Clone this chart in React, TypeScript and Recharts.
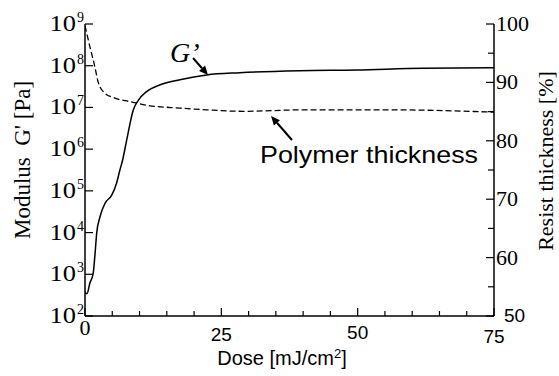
import React from 'react'
import { LineChart, Line, XAxis, YAxis } from 'recharts'

const SERIF = '"Liberation Serif", "Times New Roman", serif'
const SANS = '"Liberation Sans", Arial, sans-serif'

// x axis: dose [mJ/cm2]
const doseTicks = [0, 5, 10, 15, 20, 25, 30, 35, 40, 45, 50, 55, 60, 65, 70, 75]
const doseLabels = [0, 25, 50, 75]

// left axis: modulus G' [Pa], log scale
const modulusTicks = [1e2, 1e3, 1e4, 1e5, 1e6, 1e7, 1e8, 1e9]

// right axis: resist thickness [%]
const thicknessTicks = [50, 55, 60, 65, 70, 75, 80, 85, 90, 95, 100]
const thicknessLabels = [50, 60, 70, 80, 90, 100]

// G' curve
const gDose = [0, 0.35, 0.9, 1.5, 1.85, 2.15, 2.75, 3.7, 4.9, 5.8, 6.4, 6.9, 7.65, 8.85, 9.8, 11.3, 13.8, 17.4, 22.3, 28.4, 39.4, 49.8, 62, 75]
const gModulus = [380, 340, 620, 1050, 3200, 9800, 24000, 51000, 79000, 155000, 316000, 550000, 1.66e6, 8.7e6, 1.5e7, 2.4e7, 3.5e7, 4.6e7, 6.0e7, 6.8e7, 7.6e7, 7.9e7, 8.7e7, 8.9e7]

// polymer thickness curve
const tDose = [0, 0.9, 1.8, 2.4, 3.7, 5.2, 8.3, 11.3, 17.4, 22.3, 29, 40, 56, 75]
const tThickness = [99.7, 96.1, 92.7, 90.1, 88.1, 87.4, 86.7, 86.1, 85.6, 85.3, 85.05, 85.3, 85.3, 84.9]

const gData = gDose.map((d, i) => ({ dose: d, g: gModulus[i] }))
const tData = tDose.map((d, i) => ({ dose: d, t: tThickness[i] }))

const BottomTick = (p: any) => {
  const v = p.payload.value
  const major = doseLabels.includes(v)
  return (
    <g>
      <line x1={p.x} y1={p.y} x2={p.x} y2={p.y - (major ? 8 : 5)} stroke="#000" strokeWidth={1.2} />
      {major && v === 0 && (
        <text x={p.x} y={p.y + 19} textAnchor="middle" fontFamily={SERIF} fontSize={22} fill="#000">0</text>
      )}
      {major && v !== 0 && (
        <text x={p.x} y={p.y + (v === 50 ? 23 : v === 75 ? 27 : 25)} textAnchor="middle" fontFamily={SANS} fontSize={19} fill="#000">{v}</text>
      )}
    </g>
  )
}

const TopTick = (p: any) => (
  <line x1={p.x} y1={p.y} x2={p.x} y2={p.y + 5} stroke="#000" strokeWidth={1.2} />
)

const LeftTick = (p: any) => {
  const exp = Math.round(Math.log10(p.payload.value))
  return (
    <g>
      <line x1={p.x} y1={p.y} x2={p.x + 8} y2={p.y} stroke="#000" strokeWidth={1.2} />
      <text transform={`translate(${p.x - 9},${p.y + 7}) scale(1.15,1)`} textAnchor="end" fontFamily={SERIF} fontSize={23} fill="#000">10</text>
      <text x={p.x - 8} y={p.y - 2} fontFamily={SERIF} fontSize={14} fill="#000">{exp}</text>
    </g>
  )
}

const RightTick = (p: any) => {
  const v = p.payload.value
  const major = thicknessLabels.includes(v)
  return (
    <g>
      <line x1={p.x} y1={p.y} x2={p.x - (major ? 8 : 6)} y2={p.y} stroke="#000" strokeWidth={1.2} />
      {major && v !== 50 && (
        <text x={p.x + 2} y={p.y + 7} fontFamily={SERIF} fontSize={22} fill="#000">{v}</text>
      )}
      {v === 50 && (
        <text x={p.x + 10} y={p.y + 6} fontFamily={SANS} fontSize={19} fill="#000">50</text>
      )}
    </g>
  )
}

const Arrow = ({ x1, y1, x2, y2 }: { x1: number; y1: number; x2: number; y2: number }) => {
  const a = Math.atan2(y2 - y1, x2 - x1)
  const len = 9
  const w = 4
  const bx = x2 - len * Math.cos(a)
  const by = y2 - len * Math.sin(a)
  const px = -Math.sin(a) * w
  const py = Math.cos(a) * w
  return (
    <g>
      <line x1={x1} y1={y1} x2={bx} y2={by} stroke="#000" strokeWidth={2} />
      <polygon points={`${x2},${y2} ${bx + px},${by + py} ${bx - px},${by - py}`} fill="#000" />
    </g>
  )
}

export default function App() {
  return (
    <div style={{ position: 'absolute', left: 0, top: 0, width: 559, height: 376, background: '#fff' }}>
      <LineChart width={559} height={376} margin={{ top: 24, right: 0, bottom: 0, left: 0 }}>
        <XAxis
          xAxisId="bottom"
          dataKey="dose"
          type="number"
          domain={[0, 75]}
          ticks={doseTicks}
          interval={0}
          height={60}
          tickSize={0}
          tickMargin={0}
          tickLine={false}
          tick={BottomTick}
          axisLine={{ stroke: '#000', strokeWidth: 1.5 }}
          allowDataOverflow
        />
        <XAxis
          xAxisId="top"
          orientation="top"
          dataKey="dose"
          type="number"
          domain={[0, 75]}
          ticks={doseTicks}
          interval={0}
          height={0}
          tickSize={0}
          tickMargin={0}
          tickLine={false}
          tick={TopTick}
          axisLine={{ stroke: '#000', strokeWidth: 1.5 }}
          allowDataOverflow
        />
        <YAxis
          yAxisId="left"
          type="number"
          scale="log"
          domain={[1e2, 1e9]}
          ticks={modulusTicks}
          interval={0}
          width={85}
          tickSize={0}
          tickMargin={0}
          tickLine={false}
          tick={LeftTick}
          axisLine={{ stroke: '#000', strokeWidth: 1.5 }}
          allowDataOverflow
        />
        <YAxis
          yAxisId="right"
          orientation="right"
          type="number"
          domain={[50, 100]}
          ticks={thicknessTicks}
          interval={0}
          width={65}
          tickSize={0}
          tickMargin={0}
          tickLine={false}
          tick={RightTick}
          axisLine={{ stroke: '#000', strokeWidth: 1.5 }}
          allowDataOverflow
        />
        <Line
          data={gData}
          xAxisId="bottom"
          yAxisId="left"
          dataKey="g"
          type="monotone"
          stroke="#000"
          strokeWidth={1.5}
          dot={false}
          isAnimationActive={false}
        />
        <Line
          data={tData}
          xAxisId="bottom"
          yAxisId="right"
          dataKey="t"
          type="monotone"
          stroke="#000"
          strokeWidth={1.3}
          strokeDasharray="6 3"
          dot={false}
          isAnimationActive={false}
        />
      </LineChart>
      <svg width={559} height={376} style={{ position: 'absolute', left: 0, top: 0, pointerEvents: 'none' }}>
        <text
          transform="translate(30,160) rotate(-90)"
          textAnchor="middle"
          fontFamily={SERIF}
          fontSize={23}
          fill="#000"
          style={{ whiteSpace: 'pre' }}
        >
          {"Modulus  G' [Pa]"}
        </text>
        <text transform="translate(553,161) rotate(-90)" textAnchor="middle" fontFamily={SERIF} fontSize={22} fill="#000">
          Resist thickness [%]
        </text>
        <text x={282} y={365} textAnchor="middle" fontFamily={SANS} fontSize={20} fill="#000">
          Dose [mJ/cm<tspan fontSize={13} dy={-7}>2</tspan><tspan dy={7}>]</tspan>
        </text>
        <text x={170} y={62} fontFamily={SERIF} fontStyle="italic" fontSize={28} fill="#000">G’</text>
        <Arrow x1={193} y1={58} x2={208} y2={75} />
        <text x={260} y={163} fontFamily={SANS} fontSize={24} textLength={218} lengthAdjust="spacingAndGlyphs" fill="#000">
          Polymer thickness
        </text>
        <Arrow x1={292} y1={140} x2={271} y2={116} />
      </svg>
    </div>
  )
}
